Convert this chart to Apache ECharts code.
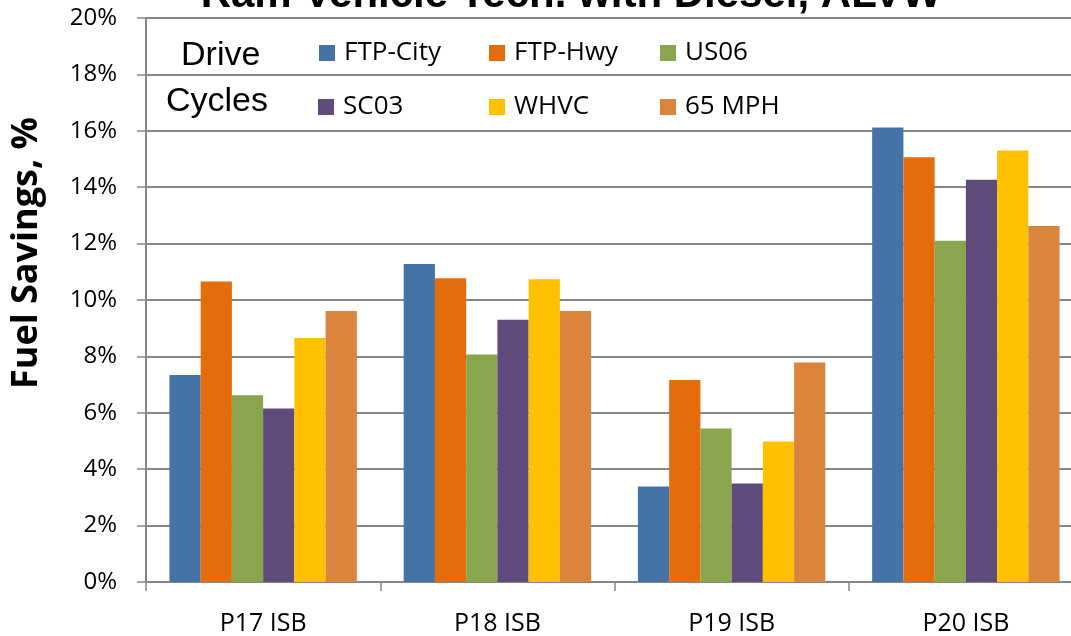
<!DOCTYPE html>
<html>
<head>
<meta charset="utf-8">
<script src="https://cdn.jsdelivr.net/npm/echarts@6/dist/echarts.min.js"></script>
<style>html,body{margin:0;padding:0;background:#fff;}#c{width:1071px;height:636px;}</style>
</head>
<body>
<div id="c"></div>
<script>
const categories = ['P17 ISB', 'P18 ISB', 'P19 ISB', 'P20 ISB'];
const seriesNames = ['FTP-City', 'FTP-Hwy', 'US06', 'SC03', 'WHVC', '65 MPH'];
const ftpCity = [7.34, 11.28, 3.39, 16.12];
const ftpHwy  = [10.66, 10.77, 7.16, 15.06];
const us06    = [6.62, 8.07, 5.44, 12.10];
const sc03    = [6.15, 9.30, 3.49, 14.26];
const whvc    = [8.65, 10.74, 4.98, 15.30];
const mph65   = [9.61, 9.61, 7.78, 12.62];
const yTicks = [0, 2, 4, 6, 8, 10, 12, 14, 16, 18, 20];
const colors = ['#4572A7', '#E46C0A', '#89A54E', '#604A7B', '#FFC000', '#DB843D'];
const values = [ftpCity, ftpHwy, us06, sc03, whvc, mph65];

const legendPos = [[319, 40], [489, 40], [660, 40], [318, 94], [489, 94], [660, 94]];
const gray = '#868686';
const chart = echarts.init(document.getElementById('c'));
chart.setOption({
  animation: false,
  backgroundColor: '#fff',
  grid: { left: 146, top: 18, width: 937, bottom: 54, containLabel: false, outerBoundsMode: 'none' },
  legend: seriesNames.map((n, i) => ({
    data: [n], left: legendPos[i][0], top: legendPos[i][1], padding: 0,
    icon: 'rect', itemWidth: 16, itemHeight: 16, itemGap: 7,
    textStyle: { fontSize: 26, fontFamily: 'Open Sans', color: '#000', padding: [0, 0, 0, 4] }
  })),
  graphic: [
    { type: 'text', x: 571, y: -26, style: { text: 'Ram Vehicle Tech. with Diesel, ALVW', font: 'bold 42px "Liberation Sans"', fill: '#000', align: 'center' } },
    { type: 'text', left: 181, top: 39, style: { text: 'Drive', font: '34px "Liberation Sans"', fill: '#000' } },
    { type: 'text', left: 166, top: 85, style: { text: 'Cycles', font: '34px "Liberation Sans"', fill: '#000' } },
    { type: 'text', x: 27, y: 253, rotation: Math.PI / 2, style: { text: 'Fuel Savings, %', font: 'bold 36px "Open Sans"', fill: '#000', align: 'center', verticalAlign: 'middle' } }
  ],
  xAxis: {
    type: 'category', data: categories,
    axisLine: { lineStyle: { color: gray, width: 2 } },
    axisTick: { show: true, length: 9, lineStyle: { color: gray, width: 1.5 } },
    axisLabel: { color: '#000', fontSize: 25, fontFamily: 'Open Sans', margin: 29 }
  },
  yAxis: {
    type: 'value', min: 0, max: 20, interval: 2,
    axisLine: { show: true, lineStyle: { color: gray, width: 2 } },
    axisTick: { show: true, length: 9, lineStyle: { color: gray, width: 1.5 } },
    axisLabel: { color: '#000', fontSize: 24, fontFamily: 'Open Sans', margin: 29, formatter: v => yTicks.includes(v) ? v + '%' : '' },
    splitLine: { lineStyle: { color: gray, width: 2 } }
  },
  series: seriesNames.map((n, i) => ({
    name: n, type: 'bar', data: values[i], barGap: '0%', barCategoryGap: '20%',
    itemStyle: { color: colors[i] }
  }))
});
</script>
</body>
</html>
